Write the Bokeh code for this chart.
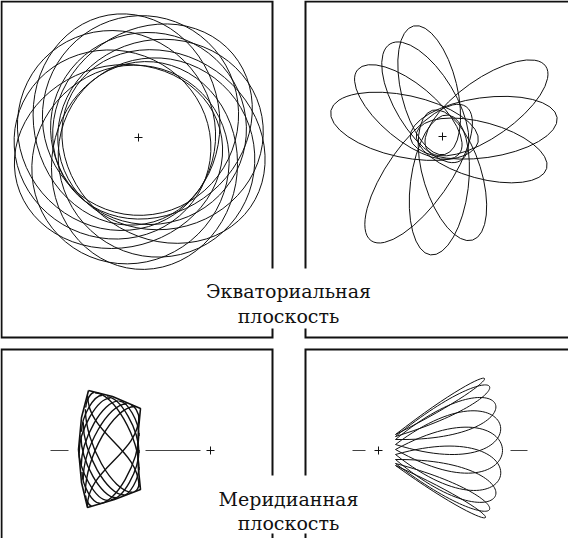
import numpy as np
from bokeh.plotting import figure
from bokeh.models import Range1d
from bokeh.core.properties import value
from bokeh.embed import file_html
from bokeh.resources import INLINE

# ---------------- data (local units, "+" of each panel at the origin, y up) -------------
# Equatorial plane, left panel: rosette loops (ellipse centre, full axes, tilt in degrees)
ros_cx = [22, 14, 2, -12, -22, -26, -20, -8, 6, 18, 25, 10]
ros_cy = [3, 16, 22, 18, 7, -7, -19, -27, -28, -20, -9, 9]
ros_w = [206, 210, 200, 212, 204, 198, 210, 202, 208, 200, 212, 196]
ros_h = [190, 184, 196, 186, 194, 188, 182, 194, 186, 196, 184, 192]
ros_ang = [10, 40, 75, 100, 130, 160, 15, 50, 85, 115, 145, 170]

# Equatorial plane, right panel: petals (apocentre points), back reach, width, side shift
pet_apo_x = [-27, -55, -83, -112, 102, 115, 105, -73, -15, 32]
pet_apo_y = [111, 91, 69, 24, 72, 16, -29, -103, -118, -103]
pet_back = [18, 30, 24, 36, 20, 32, 26, 38, 22, 28]
pet_width = [56, 60, 56, 62, 58, 60, 56, 62, 58, 58]
pet_shift = [2, -3, 3, -2, -2, 3, -3, 2, 3, -2]

# Meridional plane, left panel: box orbit outline and the two families of strands
box_x = [-122, -98, -70, -72, -73, -72, -70, -96, -123, -129, -132, -129, -122]
box_y = [60, 54, 42, 21, 1, -19, -39, -49, -57, -32, 1, 33, 60]
# strand end points; end kind: "s" = turns at a side wall, "e" = turns at top/bottom
latA_x0 = [-79.3, -91.4, -103.5, -115.6, -122.8, -125.1, -127.3, -129.6, -131.8, -128.5, -124.9]
latA_y0 = [45.2, 49.4, 53.6, 57.8, 54.8, 41.3, 28.2, 15.0, 1.8, -21.6, -44.9]
latA_x1 = [-71.5, -71.5, -71.5, -71.5, -71.5, -78.1, -86.3, -94.4, -102.5, -110.7, -118.8]
latA_y1 = [31.6, 14.6, -2.4, -19.4, -36.4, -41.7, -44.5, -47.3, -50.0, -52.8, -55.6]
latA_k0 = ["e", "e", "e", "e", "s", "s", "s", "s", "s", "s", "s"]
latA_k1 = ["s", "s", "s", "s", "s", "e", "e", "e", "e", "e", "e"]
latB_x0 = [-124.8, -128.9, -131.4, -129.3, -127.3, -125.2, -123.1, -112.0, -99.8, -87.7, -75.8]
latB_y0 = [43.0, 18.8, -2.6, -15.9, -29.3, -42.7, -56.0, -53.3, -49.1, -45.0, -41.0]
latB_x1 = [-116.3, -108.2, -100.1, -91.9, -83.8, -75.7, -71.5, -71.5, -71.5, -71.5, -71.5]
latB_y1 = [58.0, 55.2, 52.4, 49.6, 46.8, 44.0, 34.4, 17.4, 0.4, -16.6, -33.6]
latB_k0 = ["s", "s", "s", "s", "s", "s", "s", "e", "e", "e", "e"]
latB_k1 = ["e", "e", "e", "e", "e", "e", "s", "s", "s", "s", "s"]
bl_mark_x0 = [-160, -65]
bl_mark_x1 = [-142, -10]

# Meridional plane, right panel: fan loops (inner end, outer tip, loop width)
fan_in_x = [17] * 9
fan_in_y = [16, 14, 11, 6, 1, -4, -9, -13, -15]
fan_tip_x = [106, 111, 117, 122, 124, 122, 117, 111, 107]
fan_tip_y = [72, 64, 46, 24, 0, -25, -45, -59, -67]
fan_w = [8, 16, 30, 42, 46, 42, 30, 16, 8]
br_mark_x0 = [-26, 132]
br_mark_x1 = [-13, 149]

labels = ["Экваториальная", "плоскость", "Меридианная", "плоскость"]

# ---------------- layout ----------------
W, H = 568, 538
p = figure(width=W, height=H, output_backend="svg", toolbar_location=None,
           x_range=Range1d(0, W), y_range=Range1d(H, 0), min_border=0,
           x_axis_location=None, y_axis_location=None)
p.grid.visible = False
p.outline_line_color = None
p.background_fill_color = "white"
p.border_fill_color = "white"

centers = {"tl": (138, 137), "tr": (442, 136), "bl": (210, 450), "br": (378, 450)}
for k, (fx, fy) in centers.items():
    p.extra_x_ranges[k] = Range1d(-fx, W - fx)
    p.extra_y_ranges[k] = Range1d(fy - H, fy)

INK = "#111111"

# frames
frames_x = [[272, 272, 1, 1, 272, 272], [W, 305, 305], [305, 305, W],
            [272, 272, 1, 1], [272, 272], [W, 305, 305], [305, 305]]
frames_y = [[268, 1, 1, 337, 337, 328], [1, 1, 268], [328, 337, 337],
            [475, 349, 349, H], [533, H], [349, 349, 475], [533, H]]
p.multi_line(xs=frames_x, ys=frames_y, line_color=INK, line_width=2,
             line_join="miter", line_cap="butt")

# texts
p.text(x=[288, 288, 288, 288], y=[290, 315, 498, 522], text=labels,
       text_align="center", text_baseline="alphabetic",
       text_font=value("DejaVu Serif"), text_font_size="19px", text_color=INK)

# --- top-left: rosette
p.ellipse(x=ros_cx, y=ros_cy, width=ros_w, height=ros_h, angle=ros_ang,
          angle_units="deg", fill_color=None, line_color=INK, line_width=1,
          x_range_name="tl", y_range_name="tl")

# --- top-right: petals
ax, ay = np.array(pet_apo_x, float), np.array(pet_apo_y, float)
back = np.array(pet_back, float)
shift = np.array(pet_shift, float)
r = np.hypot(ax, ay)
ux, uy = ax / r, ay / r
half = (r - back) / 2
p.ellipse(x=ux * half - uy * shift, y=uy * half + ux * shift,
          width=r + back, height=pet_width, angle=np.arctan2(ay, ax),
          fill_color=None, line_color=INK, line_width=1,
          x_range_name="tr", y_range_name="tr")


# --- bottom-left: box orbit strands as curves turning at the walls
def strands(x0, y0, x1, y1, k0, k1, f=0.42):
    x0, y0, x1, y1 = (np.array(a, float) for a in (x0, y0, x1, y1))
    dx, dy = x1 - x0, y1 - y0
    s0 = np.array([k == "s" for k in k0])
    s1 = np.array([k == "s" for k in k1])
    cx0 = np.where(s0, x0, x0 + f * dx)
    cy0 = np.where(s0, y0 + f * dy, y0)
    cx1 = np.where(s1, x1, x1 - f * dx)
    cy1 = np.where(s1, y1 - f * dy, y1)
    return dict(x0=x0, y0=y0, x1=x1, y1=y1, cx0=cx0, cy0=cy0, cx1=cx1, cy1=cy1)


for fam in (strands(latA_x0, latA_y0, latA_x1, latA_y1, latA_k0, latA_k1),
            strands(latB_x0, latB_y0, latB_x1, latB_y1, latB_k0, latB_k1)):
    p.bezier(line_color=INK, line_width=1.4, x_range_name="bl", y_range_name="bl", **fam)
p.line(x=box_x, y=box_y, line_color=INK, line_width=1.6,
       x_range_name="bl", y_range_name="bl")
p.segment(x0=bl_mark_x0, y0=[0, 0], x1=bl_mark_x1, y1=[0, 0], line_color="#444444",
          line_width=1, x_range_name="bl", y_range_name="bl")

# --- bottom-right: fan of tear-drop loops
ix, iy = np.array(fan_in_x, float), np.array(fan_in_y, float)
tx, ty = np.array(fan_tip_x, float), np.array(fan_tip_y, float)
L = np.hypot(tx - ix, ty - iy)
nx, ny = -(ty - iy) / L, (tx - ix) / L
mx, my = (4 * tx - ix) / 3, (4 * ty - iy) / 3
hh = np.array(fan_w, float) / 0.577
p.bezier(x0=ix, y0=iy, x1=ix, y1=iy, cx0=mx + hh * nx, cy0=my + hh * ny,
         cx1=mx - hh * nx, cy1=my - hh * ny, line_color=INK, line_width=1,
         x_range_name="br", y_range_name="br")
p.segment(x0=br_mark_x0, y0=[0, 0], x1=br_mark_x1, y1=[0, 0], line_color="#444444",
          line_width=1, x_range_name="br", y_range_name="br")

# centre marks
for k in centers:
    p.scatter(x=[0], y=[0], marker="cross", size=8, line_width=1, line_color=INK,
              x_range_name=k, y_range_name=k)

open("out.html", "w").write(file_html(p, INLINE))
